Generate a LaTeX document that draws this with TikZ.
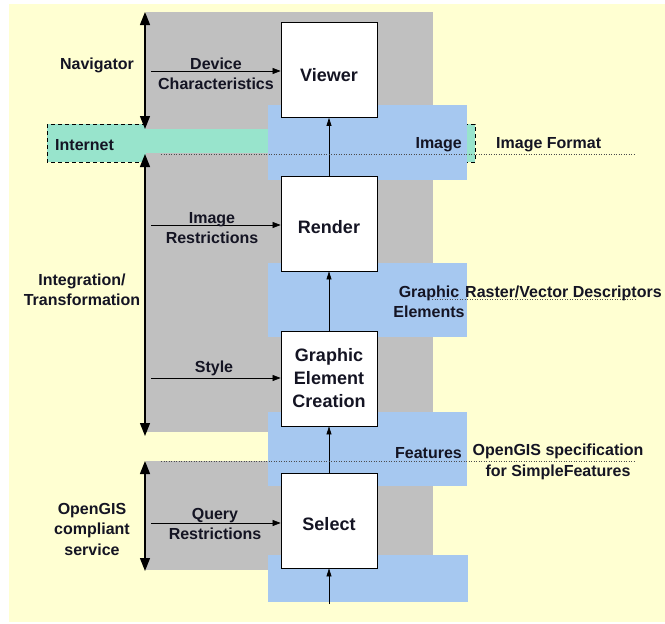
\documentclass[tikz,border=0pt]{standalone}
\usepackage{fontspec}
\setmainfont{Liberation Sans}
\usetikzlibrary{arrows.meta}
\definecolor{bgyellow}{RGB}{255,255,210}
\definecolor{gblock}{RGB}{192,192,192}
\definecolor{bband}{RGB}{166,200,240}
\definecolor{teal}{RGB}{152,228,204}
\definecolor{txt}{RGB}{20,20,35}
\tikzset{
  x=1pt, y=-1pt,
  procbox/.style={draw=black, fill=white, line width=0.8pt, minimum width=96pt, minimum height=95pt, inner sep=0pt, align=center, font={\fontsize{18}{23}\selectfont\bfseries}, text=txt},
  lbl/.style={inner sep=0pt, align=center, font={\fontsize{16}{20.5}\selectfont\bfseries}, text=txt},
  inarrow/.style={draw=black, line width=0.7pt, -{Triangle[width=6pt,length=8pt]}},
  flowarrow/.style={draw=black, line width=0.7pt, -{Triangle[width=5pt,length=8pt]}},
  spanarrow/.style={draw=black, line width=1.4pt, {Triangle[width=10pt,length=13pt]}-{Triangle[width=10pt,length=13pt]}},
  dotline/.style={draw=black!70, line width=0.6pt, dash pattern=on 1pt off 1.5pt},
}
\begin{document}
\begin{tikzpicture}
\useasboundingbox (0,0) rectangle (665,624);
% background
\fill[bgyellow] (9,4) rectangle (665,622);
% internet band (behind gray)
\draw[fill=teal, line width=0.8pt, dash pattern=on 4pt off 3pt] (47,124) rectangle (475,162);
% gray blocks
\fill[gblock] (146,12) rectangle (433,432);
\fill[gblock] (146,461) rectangle (433,570);
% teal strip over gray
\fill[teal] (143,129) rectangle (268,153);
% blue bands
\fill[bband] (268,105) rectangle (467,180);
\fill[bband] (268,263) rectangle (467,337);
\fill[bband] (268,412) rectangle (467,486);
\fill[bband] (268,555) rectangle (468,602);
% process boxes
\node[procbox, text height=23pt, text depth=0pt] (viewer) at (329,70) {Viewer};
\node[procbox, text height=19pt, text depth=0pt] (render) at (329,223.5) {Render};
\node[procbox] (gec) at (329,378.5) {Graphic\\Element\\Creation};
\node[procbox, text height=19pt, text depth=0pt] (select) at (329,520.5) {Select};
% flow arrows
\coordinate (src) at (329,604);
\draw[flowarrow] (src) -- (select.south);
\draw[flowarrow] (select.north) -- (gec.south);
\draw[flowarrow] (gec.north) -- (render.south);
\draw[flowarrow] (render.north) -- (viewer.south);
% input arrows
\coordinate (inV) at (151,71);
\coordinate (inR) at (151,225);
\coordinate (inG) at (151,378);
\coordinate (inS) at (151,523);
\draw[inarrow] (inV) -- (inV -| viewer.west);
\draw[inarrow] (inR) -- (inR -| render.west);
\draw[inarrow] (inG) -- (inG -| gec.west);
\draw[inarrow] (inS) -- (inS -| select.west);
% span arrows
\coordinate (navT) at (145,12);
\coordinate (navB) at (145,129);
\coordinate (intT) at (145,154);
\coordinate (intB) at (145,436);
\coordinate (ogT) at (145,461);
\coordinate (ogB) at (145,571);
\draw[spanarrow] (navT) -- (navB);
\draw[spanarrow] (intT) -- (intB);
\draw[spanarrow] (ogT) -- (ogB);
% dotted lines
\coordinate (d1a) at (161,154); \coordinate (d1b) at (636,154);
\coordinate (d2a) at (432,299); \coordinate (d2b) at (636,299);
\coordinate (d3a) at (161,461); \coordinate (d3b) at (636,461);
\draw[dotline] (d1a) -- (d1b);
\draw[dotline] (d2a) -- (d2b);
\draw[dotline] (d3a) -- (d3b);
% labels
\node[lbl] (navigator) at (97,65) {Navigator};
\node[lbl] (device) at (216,74) {Device\\Characteristics};
\node[lbl, anchor=west] (internet) at (55,145) {Internet};
\node[lbl, anchor=east] (image) at (462,145) {Image};
\node[lbl, anchor=west] (imgformat) at (496,145) {Image Format};
\node[lbl] (imgrestr) at (212,228) {Image\\Restrictions};
\node[lbl] (integ) at (82,290) {Integration/\\Transformation};
\node[lbl] (graphel) at (429,302) {Graphic\\Elements};
\node[lbl, anchor=west] (raster) at (465,293) {Raster/Vector Descriptors};
\node[lbl] (style) at (214,368) {Style};
\node[lbl, anchor=east] (features) at (462,453) {Features};
\node[lbl] (ogspec) at (558,462) {OpenGIS specification\\for SimpleFeatures};
\node[lbl] (ogserv) at (92,529) {OpenGIS\\compliant\\service};
\node[lbl] (query) at (215,524) {Query\\Restrictions};
\end{tikzpicture}
\end{document}
